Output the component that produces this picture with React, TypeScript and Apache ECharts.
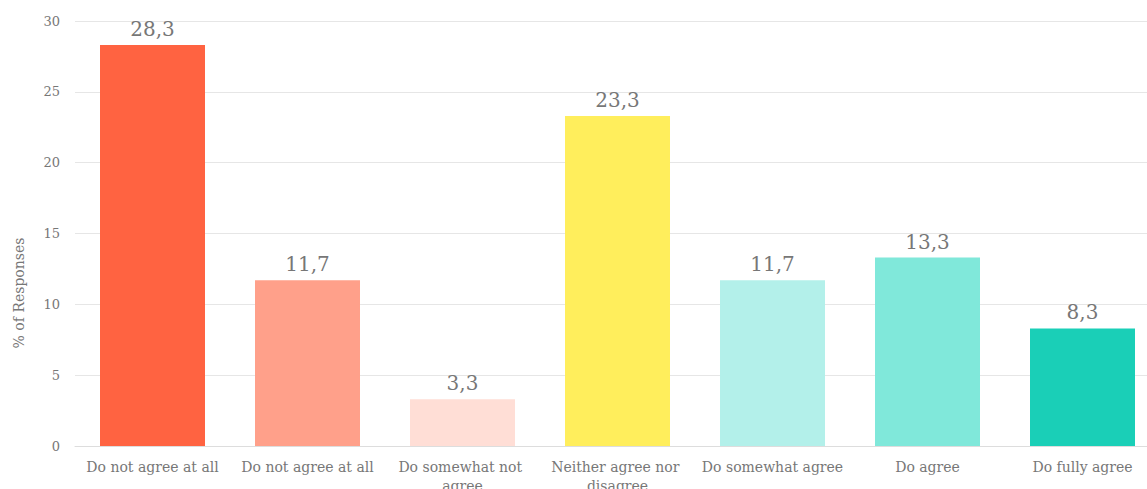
import React, { useEffect, useRef } from "react";
import * as echarts from "echarts";

// Survey answer categories, left to right
const categories = [
  "Do not agree at all",
  "Do not agree at all",
  "Do somewhat not agree",
  "Neither agree nor disagree",
  "Do somewhat agree",
  "Do agree",
  "Do fully agree",
];

// Share of responses per category (%)
const responses = [28.3, 11.7, 3.3, 23.3, 11.7, 13.3, 8.3];

// One fill per bar, red through yellow to teal
const barColors = [
  "#FF6341",
  "#FFA08A",
  "#FFDED6",
  "#FFEE5C",
  "#B3F0EA",
  "#80E8DA",
  "#1ACFB7",
];

const yTicks = { min: 0, max: 30, interval: 5 };

const FONT = "DejaVu Serif";
const TEXT = "#777777";

export default function App() {
  const ref = useRef<HTMLDivElement>(null);

  useEffect(() => {
    if (!ref.current) return;
    const chart = echarts.init(ref.current, undefined, { renderer: "svg" });
    chart.setOption({
      animation: false,
      backgroundColor: "#ffffff",
      grid: {
        left: 75,
        top: 21,
        width: 1085,
        height: 425,
        containLabel: false,
        outerBoundsMode: "none",
      },
      graphic: [
        {
          type: "text",
          x: 19,
          y: 293,
          rotation: Math.PI / 2,
          style: {
            text: "% of Responses",
            fill: TEXT,
            font: `14px ${FONT}`,
            align: "center",
            verticalAlign: "middle",
          },
        },
      ],
      xAxis: {
        type: "category",
        data: categories,
        axisTick: { show: false },
        axisLine: { lineStyle: { color: "#dddddd" } },
        axisLabel: {
          interval: 0,
          color: TEXT,
          fontFamily: FONT,
          fontSize: 14,
          margin: 11,
          width: 150,
          overflow: "break",
          lineHeight: 19,
        },
      },
      yAxis: {
        type: "value",
        min: yTicks.min,
        max: yTicks.max,
        interval: yTicks.interval,
        axisLine: { show: false },
        axisTick: { show: false },
        splitLine: { lineStyle: { color: "#e6e6e6" } },
        axisLabel: {
          color: TEXT,
          fontFamily: FONT,
          fontSize: 13,
          margin: 15,
        },
      },
      series: [
        {
          type: "bar",
          barWidth: 105,
          data: responses.map((v, i) => ({
            value: v,
            itemStyle: { color: barColors[i] },
          })),
          label: {
            show: true,
            position: "top",
            distance: 6,
            color: TEXT,
            fontFamily: FONT,
            fontSize: 20,
            formatter: (p: any) => String(p.value).replace(".", ","),
          },
        },
      ],
    });
    return () => chart.dispose();
  }, []);

  return (
    <div
      ref={ref}
      style={{ position: "fixed", left: 0, top: 0, width: 1147, height: 489 }}
    />
  );
}
